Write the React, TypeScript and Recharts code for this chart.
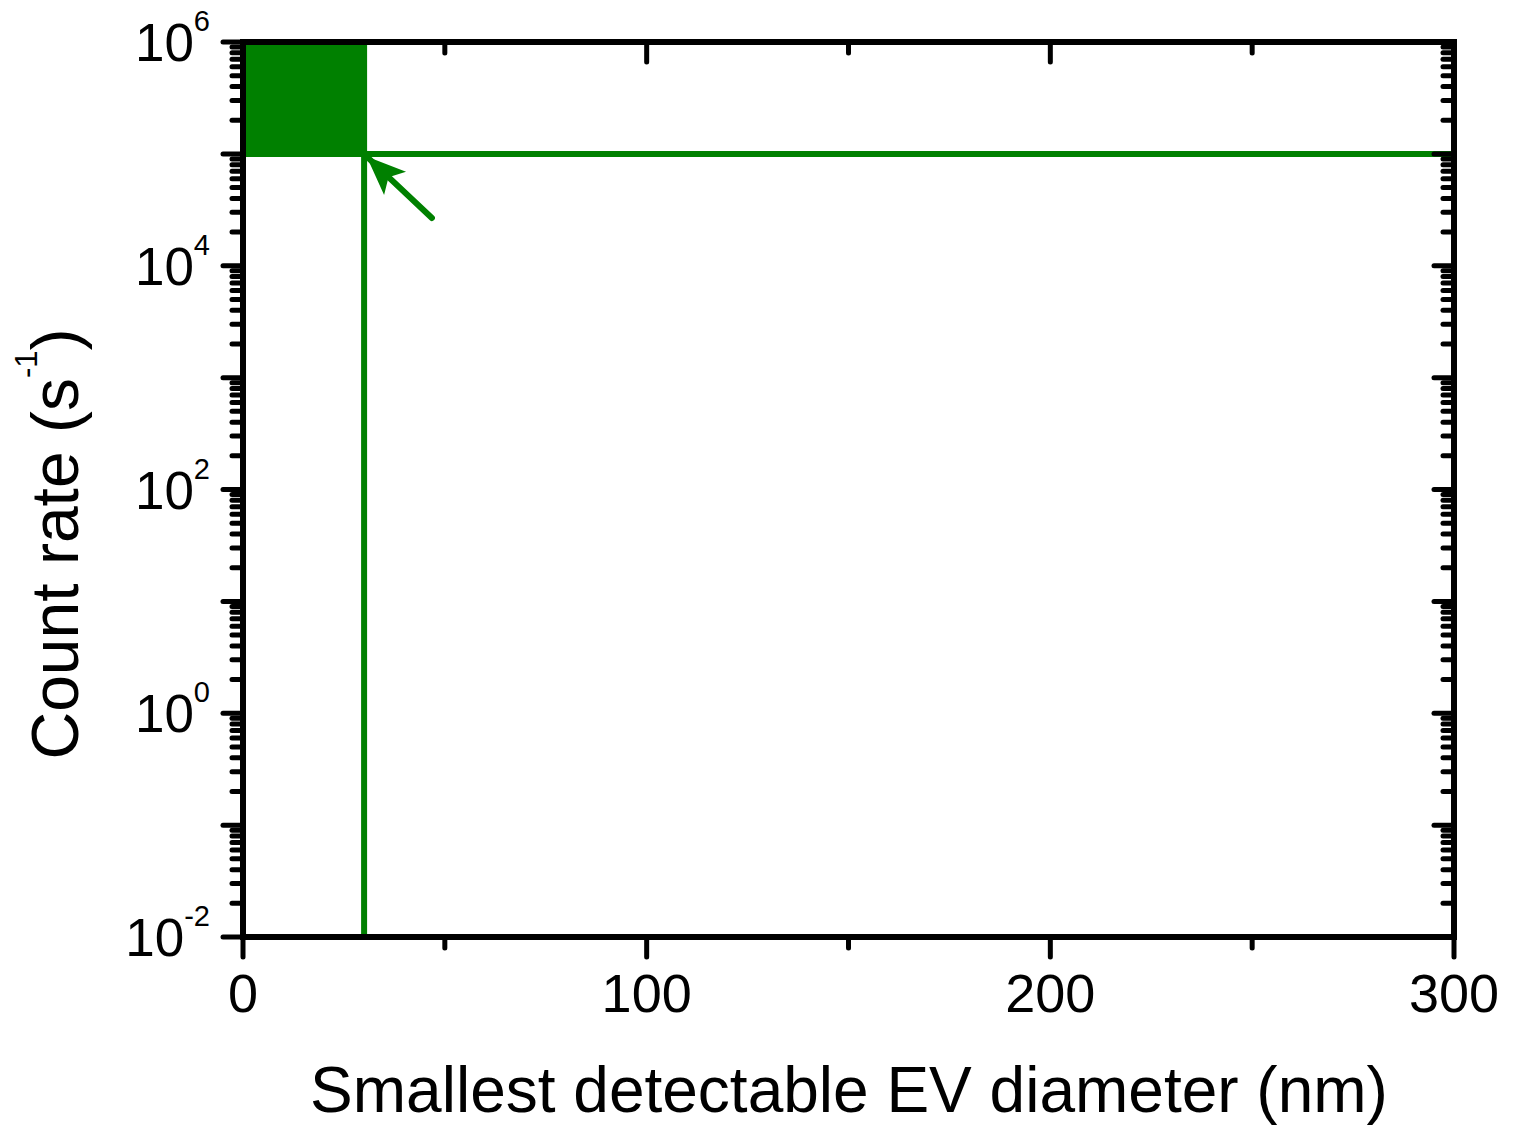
import { ComposedChart, XAxis, YAxis, Line, ReferenceArea } from "recharts";

// x: smallest detectable EV diameter (nm), y: count rate (s^-1), log scale
const X_TICKS = [0, 50, 100, 150, 200, 250, 300];
const Y_DECADES = [-2, -1, 0, 1, 2, 3, 4, 5];
const Y_TOP = 1e6;

// shaded region (diameter 0-30 nm, rate 1e5-1e6)
const FILL_X = [0, 30];
const FILL_Y = [1e5, 1e6];

// limit lines
const H_LINE_X = [0, 300];
const H_LINE_Y = [1e5, 1e5];
const V_LINE_X = [30, 30];
const V_LINE_Y = [0.01, 1e6];

// arrow: tail -> head
const ARROW_X = [46.8, 31.0];
const ARROW_Y = [2.67e4, 9.2e4];

const GREEN = "#008000";
const FONT = "'Liberation Sans', Arial, sans-serif";

const yTicks: number[] = [];
Y_DECADES.forEach((d) => {
  for (let m = 1; m <= 9; m++) yTicks.push(m * Math.pow(10, d));
});
yTicks.push(Y_TOP);

const toPoints = (xs: number[], ys: number[]) => xs.map((x, i) => ({ x, y: ys[i] }));
const hLine = toPoints(H_LINE_X, H_LINE_Y);
const vLine = toPoints(V_LINE_X, V_LINE_Y);
const arrow = toPoints(ARROW_X, ARROW_Y);

const decade = (v: number) => {
  const e = Math.log10(v);
  const r = Math.round(e);
  return { major: Math.abs(e - r) < 1e-6, exp: r };
};

const tickStroke = { stroke: "#000", strokeWidth: 5, strokeLinecap: "round" as const };

const LeftTick = (props: any) => {
  const { x, y, payload } = props;
  const { major, exp } = decade(payload.value);
  return (
    <g>
      <line x1={x} y1={y} x2={x - (major ? 20 : 11)} y2={y} {...tickStroke} />
      {major && exp % 2 === 0 && (
        <text x={x - 33} y={y + 19} textAnchor="end" fontSize={53} fill="#000" fontFamily={FONT}>
          10
          <tspan fontSize={29} dy={-30}>
            {exp}
          </tspan>
        </text>
      )}
    </g>
  );
};

const RightTick = (props: any) => {
  const { x, y, payload } = props;
  const { major } = decade(payload.value);
  return <line x1={x} y1={y} x2={x - (major ? 20 : 11)} y2={y} {...tickStroke} />;
};

const BottomTick = (props: any) => {
  const { x, y, payload } = props;
  const major = payload.value % 100 === 0;
  return (
    <g>
      <line x1={x} y1={y} x2={x} y2={y + (major ? 20 : 11)} {...tickStroke} />
      {major && (
        <text x={x} y={y + 75} textAnchor="middle" fontSize={54} fill="#000" fontFamily={FONT}>
          {payload.value}
        </text>
      )}
    </g>
  );
};

const TopTick = (props: any) => {
  const { x, y, payload } = props;
  const major = payload.value % 100 === 0;
  return <line x1={x} y1={y} x2={x} y2={y + (major ? 20 : 11)} {...tickStroke} />;
};

const axisLine = { stroke: "#000", strokeWidth: 6, strokeLinecap: "square" as const };

export default function App() {
  return (
    <div style={{ position: "absolute", left: 0, top: 0, width: 1514, height: 1129, background: "#fff" }}>
      <svg width={0} height={0} style={{ position: "absolute" }}>
        <defs>
          <marker
            id="arrowHead"
            markerUnits="userSpaceOnUse"
            orient="auto"
            markerWidth={1}
            markerHeight={1}
            refX={0}
            refY={0}
            overflow="visible"
          >
            <path d="M2,0 L-37,-16 L-28,0 L-37,16 Z" fill={GREEN} />
          </marker>
        </defs>
      </svg>
      <ComposedChart width={1514} height={1129} margin={{ top: 41, right: 59, bottom: 92, left: 0 }}>
        <XAxis
          xAxisId="b"
          type="number"
          dataKey="x"
          domain={[0, 300]}
          ticks={X_TICKS}
          interval={0}
          height={100}
          tickSize={0}
          tickMargin={0}
          tickLine={false}
          tick={BottomTick}
          axisLine={axisLine}
          allowDataOverflow
        />
        <XAxis
          xAxisId="t"
          orientation="top"
          type="number"
          dataKey="x"
          domain={[0, 300]}
          ticks={X_TICKS}
          interval={0}
          height={1}
          tickSize={0}
          tickMargin={0}
          tickLine={false}
          tick={TopTick}
          axisLine={axisLine}
          allowDataOverflow
        />
        <YAxis
          yAxisId="l"
          type="number"
          scale="log"
          domain={[0.01, Y_TOP]}
          ticks={yTicks}
          interval={0}
          width={243}
          tickSize={0}
          tickMargin={0}
          tickLine={false}
          tick={LeftTick}
          axisLine={axisLine}
          allowDataOverflow
        />
        <YAxis
          yAxisId="r"
          orientation="right"
          type="number"
          scale="log"
          domain={[0.01, Y_TOP]}
          ticks={yTicks}
          interval={0}
          width={1}
          tickSize={0}
          tickMargin={0}
          tickLine={false}
          tick={RightTick}
          axisLine={axisLine}
          allowDataOverflow
        />
        <ReferenceArea
          xAxisId="b"
          yAxisId="l"
          x1={FILL_X[0]}
          x2={FILL_X[1]}
          y1={FILL_Y[0]}
          y2={FILL_Y[1]}
          fill={GREEN}
          fillOpacity={1}
          stroke="none"
          ifOverflow="visible"
        />
        <Line
          xAxisId="b"
          yAxisId="l"
          data={hLine}
          dataKey="y"
          type="linear"
          stroke={GREEN}
          strokeWidth={6}
          dot={false}
          activeDot={false}
          isAnimationActive={false}
        />
        <Line
          xAxisId="b"
          yAxisId="l"
          data={vLine}
          dataKey="y"
          type="linear"
          stroke={GREEN}
          strokeWidth={6}
          dot={false}
          activeDot={false}
          isAnimationActive={false}
        />
        <Line
          xAxisId="b"
          yAxisId="l"
          data={arrow}
          dataKey="y"
          type="linear"
          stroke={GREEN}
          strokeWidth={6}
          strokeLinecap="round"
          markerEnd="url(#arrowHead)"
          dot={false}
          activeDot={false}
          isAnimationActive={false}
        />
      </ComposedChart>
      <svg
        width={1514}
        height={1129}
        style={{ position: "absolute", left: 0, top: 0, pointerEvents: "none" }}
      >
        <text
          transform="translate(78,544) rotate(-90)"
          textAnchor="middle"
          fontSize={66}
          fill="#000"
          fontFamily={FONT}
        >
          Count rate (s
          <tspan fontSize={31} dy={-41}>
            -1
          </tspan>
          <tspan dy={41}>)</tspan>
        </text>
        <text x={849} y={1112} textAnchor="middle" fontSize={64} fill="#000" fontFamily={FONT}>
          Smallest detectable EV diameter (nm)
        </text>
      </svg>
    </div>
  );
}
